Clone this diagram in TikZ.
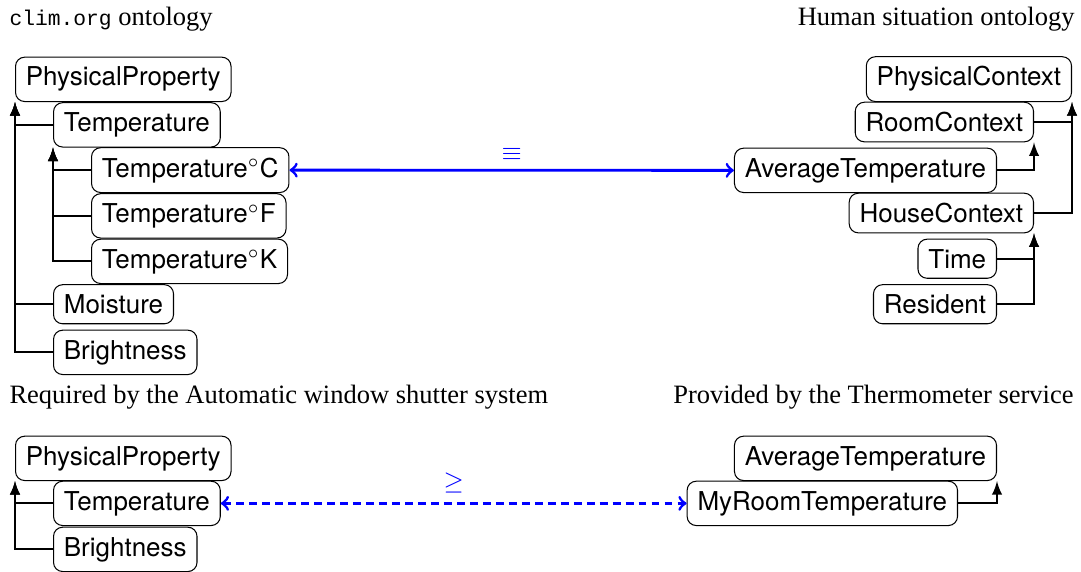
\documentclass[tikz,border=0pt]{standalone}
\usepackage{fontspec}
\setmainfont{Liberation Serif}
\setsansfont{TeX Gyre Heros}
\setmonofont{Liberation Mono}
\begin{document}
\begin{tikzpicture}[x=0.385pt, y=-0.385pt,
  main/.style = {draw, rounded corners=3.5pt, font=\sffamily, inner xsep=4pt, inner ysep=3.8pt},
  isa/.style = {thick, -latex},
  caption/.style = {inner sep=0pt, font=\fontsize{10.2pt}{12pt}\selectfont},
  match/.style = {blue, line width=1.1pt, <->, >=to}]
\useasboundingbox (0,0) rectangle (1081,571);
\node[caption, anchor=base west] (t1) at (9,26) {{\ttfamily\fontsize{8.2pt}{10pt}\selectfont clim.org} ontology};
\node[caption, anchor=base east] (t2) at (1075,26) {Human situation ontology};
\node[caption, anchor=base west] (t3) at (9,403) {Required by the Automatic window shutter system};
\node[caption, anchor=base east] (t4) at (1074,403) {Provided by the Thermometer service};

\node[main, anchor=base west] (pp) at (15,86) {PhysicalProperty};
\node[main, anchor=base west] (temp) at (53,131.5) {Temperature};
\node[main, anchor=base west] (tc) at (91,177) {Temperature$^\circ$C};
\node[main, anchor=base west] (tf) at (91,222.5) {Temperature$^\circ$F};
\node[main, anchor=base west] (tk) at (91,268) {Temperature$^\circ$K};
\node[main, anchor=base west] (moist) at (53,313.5) {Moisture};
\node[main, anchor=base west] (bright) at (53,359) {Brightness};
\draw[isa] (temp.west) -| (pp.south west);
\draw[isa] (moist.west) -| (pp.south west);
\draw[isa] (bright.west) -| (pp.south west);
\draw[isa] (tc.west) -| (temp.south west);
\draw[isa] (tf.west) -| (temp.south west);
\draw[isa] (tk.west) -| (temp.south west);

\node[main, anchor=base east] (pc) at (1072,86) {PhysicalContext};
\node[main, anchor=base east] (room) at (1034,131.5) {RoomContext};
\node[main, anchor=base east] (avg) at (997,177) {AverageTemperature};
\node[main, anchor=base east] (house) at (1034,222.5) {HouseContext};
\node[main, anchor=base east] (time) at (997,268) {Time};
\node[main, anchor=base east] (res) at (997,313.5) {Resident};
\draw[isa] (room.east) -| (pc.south east);
\draw[isa] (house.east) -| (pc.south east);
\draw[isa] (avg.east) -| (room.south east);
\draw[isa] (time.east) -| (house.south east);
\draw[isa] (res.east) -| (house.south east);

\draw[match] (tc.east) -- node[above=0pt] {$\equiv$} (avg.west);

\node[main, anchor=base west] (pp2) at (15,465) {PhysicalProperty};
\node[main, anchor=base west] (temp2) at (53,510) {Temperature};
\node[main, anchor=base west] (bright2) at (53,556) {Brightness};
\draw[isa] (temp2.west) -| (pp2.south west);
\draw[isa] (bright2.west) -| (pp2.south west);

\node[main, anchor=base east] (avg2) at (997,465) {AverageTemperature};
\node[main, anchor=base east] (myroom) at (958,510) {MyRoomTemperature};
\draw[isa] (myroom.east) -| (avg2.south east);

\draw[match, dash pattern=on 3pt off 2pt] (temp2.east) -- node[above=0pt] {$\geq$} (myroom.west);
\end{tikzpicture}
\end{document}
